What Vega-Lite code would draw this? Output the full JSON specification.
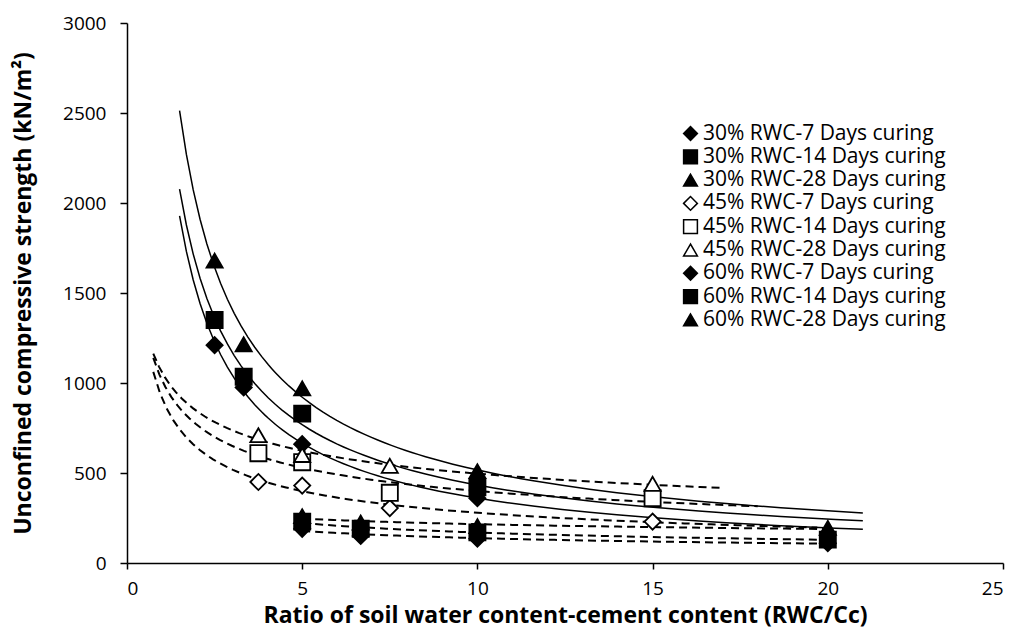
{
  "$schema": "https://vega.github.io/schema/vega-lite/v6.json",
  "width": 876,
  "height": 540,
  "autosize": "none",
  "padding": {"left": 127, "top": 23, "right": 14, "bottom": 66},
  "background": "white",
  "config": {
    "font": "Open Sans",
    "view": {"stroke": null},
    "axis": {
      "grid": false,
      "domainColor": "black",
      "domainWidth": 1.5,
      "tickColor": "black",
      "tickWidth": 1.5,
      "labelColor": "black",
      "labelFontSize": 19,
      "labelFont": "Open Sans",
      "titleFont": "Open Sans",
      "titleFontSize": 23,
      "titleFontWeight": "bold",
      "titleColor": "black"
    }
  },
  "data": {
    "values": [
      {"series": "30% RWC-7 Days curing", "rwc": "30%", "days": 7, "ratio": 2.5, "ucs": 1210},
      {"series": "30% RWC-7 Days curing", "rwc": "30%", "days": 7, "ratio": 3.33, "ucs": 975},
      {"series": "30% RWC-7 Days curing", "rwc": "30%", "days": 7, "ratio": 5, "ucs": 660},
      {"series": "30% RWC-7 Days curing", "rwc": "30%", "days": 7, "ratio": 10, "ucs": 360},
      {"series": "30% RWC-14 Days curing", "rwc": "30%", "days": 14, "ratio": 2.5, "ucs": 1350},
      {"series": "30% RWC-14 Days curing", "rwc": "30%", "days": 14, "ratio": 3.33, "ucs": 1035},
      {"series": "30% RWC-14 Days curing", "rwc": "30%", "days": 14, "ratio": 5, "ucs": 830},
      {"series": "30% RWC-14 Days curing", "rwc": "30%", "days": 14, "ratio": 10, "ucs": 420},
      {"series": "30% RWC-28 Days curing", "rwc": "30%", "days": 28, "ratio": 2.5, "ucs": 1680},
      {"series": "30% RWC-28 Days curing", "rwc": "30%", "days": 28, "ratio": 3.33, "ucs": 1215},
      {"series": "30% RWC-28 Days curing", "rwc": "30%", "days": 28, "ratio": 5, "ucs": 970},
      {"series": "30% RWC-28 Days curing", "rwc": "30%", "days": 28, "ratio": 10, "ucs": 510},
      {"series": "45% RWC-7 Days curing", "rwc": "45%", "days": 7, "ratio": 3.75, "ucs": 450},
      {"series": "45% RWC-7 Days curing", "rwc": "45%", "days": 7, "ratio": 5, "ucs": 430},
      {"series": "45% RWC-7 Days curing", "rwc": "45%", "days": 7, "ratio": 7.5, "ucs": 305},
      {"series": "45% RWC-7 Days curing", "rwc": "45%", "days": 7, "ratio": 15, "ucs": 230},
      {"series": "45% RWC-14 Days curing", "rwc": "45%", "days": 14, "ratio": 3.75, "ucs": 610},
      {"series": "45% RWC-14 Days curing", "rwc": "45%", "days": 14, "ratio": 5, "ucs": 560},
      {"series": "45% RWC-14 Days curing", "rwc": "45%", "days": 14, "ratio": 7.5, "ucs": 390},
      {"series": "45% RWC-14 Days curing", "rwc": "45%", "days": 14, "ratio": 15, "ucs": 360},
      {"series": "45% RWC-28 Days curing", "rwc": "45%", "days": 28, "ratio": 3.75, "ucs": 710},
      {"series": "45% RWC-28 Days curing", "rwc": "45%", "days": 28, "ratio": 5, "ucs": 600},
      {"series": "45% RWC-28 Days curing", "rwc": "45%", "days": 28, "ratio": 7.5, "ucs": 540},
      {"series": "45% RWC-28 Days curing", "rwc": "45%", "days": 28, "ratio": 15, "ucs": 440},
      {"series": "60% RWC-7 Days curing", "rwc": "60%", "days": 7, "ratio": 5, "ucs": 190},
      {"series": "60% RWC-7 Days curing", "rwc": "60%", "days": 7, "ratio": 6.67, "ucs": 150},
      {"series": "60% RWC-7 Days curing", "rwc": "60%", "days": 7, "ratio": 10, "ucs": 135},
      {"series": "60% RWC-7 Days curing", "rwc": "60%", "days": 7, "ratio": 20, "ucs": 110},
      {"series": "60% RWC-14 Days curing", "rwc": "60%", "days": 14, "ratio": 5, "ucs": 230},
      {"series": "60% RWC-14 Days curing", "rwc": "60%", "days": 14, "ratio": 6.67, "ucs": 190},
      {"series": "60% RWC-14 Days curing", "rwc": "60%", "days": 14, "ratio": 10, "ucs": 170},
      {"series": "60% RWC-14 Days curing", "rwc": "60%", "days": 14, "ratio": 20, "ucs": 130},
      {"series": "60% RWC-28 Days curing", "rwc": "60%", "days": 28, "ratio": 5, "ucs": 260},
      {"series": "60% RWC-28 Days curing", "rwc": "60%", "days": 28, "ratio": 6.67, "ucs": 225},
      {"series": "60% RWC-28 Days curing", "rwc": "60%", "days": 28, "ratio": 10, "ucs": 205},
      {"series": "60% RWC-28 Days curing", "rwc": "60%", "days": 28, "ratio": 20, "ucs": 195}
    ]
  },
  "encoding": {
    "x": {
      "field": "ratio",
      "type": "quantitative",
      "scale": {"domain": [0, 25], "nice": false, "zero": false},
      "axis": {
        "values": [0, 5, 10, 15, 20, 25],
        "format": "d",
        "title": "Ratio of soil water content-cement content (RWC/Cc)",
        "tickSize": 6,
        "labelPadding": 10,
        "titlePadding": 6
      }
    },
    "y": {
      "field": "ucs",
      "type": "quantitative",
      "scale": {"domain": [0, 3000], "nice": false, "zero": false},
      "axis": {
        "values": [0, 500, 1000, 1500, 2000, 2500, 3000],
        "format": "d",
        "title": "Unconfined compressive strength (kN/m²)",
        "tickSize": 7,
        "labelPadding": 14,
        "titlePadding": 27
      }
    }
  },
  "layer": [
    {
      "transform": [
        {"filter": "datum.rwc == '30%'"},
        {"regression": "ucs", "on": "ratio", "method": "pow", "extent": [1.5, 21], "groupby": ["series"]}
      ],
      "mark": {"type": "line", "color": "black", "strokeWidth": 1.5, "clip": true},
      "encoding": {"detail": {"field": "series"}}
    },
    {
      "transform": [
        {"filter": "datum.series == '45% RWC-28 Days curing'"},
        {"regression": "ucs", "on": "ratio", "method": "pow", "extent": [0.75, 17], "groupby": ["series"]}
      ],
      "mark": {"type": "line", "color": "black", "strokeWidth": 2, "strokeDash": [8, 5], "clip": true},
      "encoding": {"detail": {"field": "series"}}
    },
    {
      "transform": [
        {"filter": "datum.series == '45% RWC-14 Days curing'"},
        {"regression": "ucs", "on": "ratio", "method": "pow", "extent": [0.75, 18], "groupby": ["series"]}
      ],
      "mark": {"type": "line", "color": "black", "strokeWidth": 2, "strokeDash": [8, 5], "clip": true},
      "encoding": {"detail": {"field": "series"}}
    },
    {
      "transform": [
        {"filter": "datum.series == '45% RWC-7 Days curing'"},
        {"regression": "ucs", "on": "ratio", "method": "pow", "extent": [0.75, 19.7], "groupby": ["series"]}
      ],
      "mark": {"type": "line", "color": "black", "strokeWidth": 2, "strokeDash": [8, 5], "clip": true},
      "encoding": {"detail": {"field": "series"}}
    },
    {
      "transform": [
        {"filter": "datum.rwc == '60%'"},
        {"regression": "ucs", "on": "ratio", "method": "pow", "extent": [5, 20], "groupby": ["series"]}
      ],
      "mark": {"type": "line", "color": "black", "strokeWidth": 2, "strokeDash": [8, 5], "clip": true},
      "encoding": {"detail": {"field": "series"}}
    },
    {
      "mark": {"type": "point", "filled": true, "stroke": "black", "strokeWidth": 1.8, "size": 260, "opacity": 1},
      "encoding": {
        "shape": {
          "field": "series",
          "type": "nominal",
          "scale": {
            "domain": ["30% RWC-7 Days curing", "30% RWC-14 Days curing", "30% RWC-28 Days curing", "45% RWC-7 Days curing", "45% RWC-14 Days curing", "45% RWC-28 Days curing", "60% RWC-7 Days curing", "60% RWC-14 Days curing", "60% RWC-28 Days curing"],
            "range": ["diamond", "square", "triangle-up", "diamond", "square", "triangle-up", "diamond", "square", "triangle-up"]
          },
          "legend": {
            "title": null,
            "orient": "none",
            "legendX": 553,
            "legendY": 100,
            "labelFontSize": 21,
            "labelFont": "Open Sans",
            "labelColor": "black",
            "labelLimit": 400,
            "labelOffset": 2,
            "symbolSize": 190,
            "symbolStrokeColor": "black",
            "symbolStrokeWidth": 1.5,
            "symbolOpacity": 1,
            "rowPadding": 1.3,
            "encode": {"symbols": {"update": {"stroke": {"value": "black"}, "strokeWidth": {"value": 1.5}}}}
          }
        },
        "fill": {
          "field": "series",
          "type": "nominal",
          "scale": {
            "domain": ["30% RWC-7 Days curing", "30% RWC-14 Days curing", "30% RWC-28 Days curing", "45% RWC-7 Days curing", "45% RWC-14 Days curing", "45% RWC-28 Days curing", "60% RWC-7 Days curing", "60% RWC-14 Days curing", "60% RWC-28 Days curing"],
            "range": ["black", "black", "black", "white", "white", "white", "black", "black", "black"]
          },
          "legend": {
            "title": null,
            "orient": "none",
            "legendX": 553,
            "legendY": 100,
            "labelFontSize": 21,
            "labelFont": "Open Sans",
            "labelColor": "black",
            "labelLimit": 400,
            "labelOffset": 2,
            "symbolSize": 190,
            "symbolStrokeColor": "black",
            "symbolStrokeWidth": 1.5,
            "symbolOpacity": 1,
            "rowPadding": 1.3,
            "encode": {"symbols": {"update": {"stroke": {"value": "black"}, "strokeWidth": {"value": 1.5}}}}
          }
        }
      }
    }
  ]
}
